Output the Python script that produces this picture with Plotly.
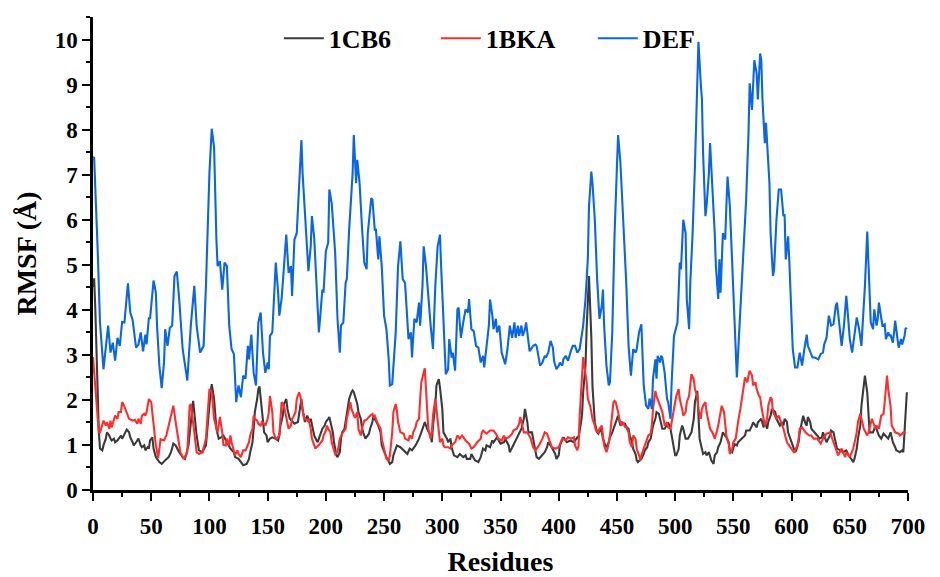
import plotly.graph_objects as go

# ---------------- data ----------------
cb6_res = [0,1,2,3,4,5,6,8,9,11,12,14,15,16,18,19,21,22,24,25,27,28,29,31,32,34,35,37,38,39,41,42,44,45,47,48,49,51,52,54,57,59,62,65,67,69,71,74,77,79,82,84,86,87,89,91,94,97,99,101,102,104,106,108,110,112,115,118,121,122,125,127,129,132,134,135,137,138,139,141,142,143,144,146,147,149,150,152,154,157,159,160,161,163,164,166,167,169,172,173,176,177,179,180,182,184,186,187,189,190,192,193,194,196,197,199,200,202,203,204,206,207,209,210,212,213,214,216,217,219,220,222,223,224,226,227,228,230,231,232,234,237,238,240,241,242,245,247,248,250,252,255,257,258,260,261,264,267,270,272,274,277,280,282,285,287,290,291,292,294,295,297,298,300,301,304,305,307,308,310,313,315,318,320,321,324,325,328,331,333,334,335,337,338,341,343,344,347,350,353,354,357,358,361,364,367,368,370,371,373,374,377,378,380,381,383,386,388,390,391,394,397,398,400,401,404,407,410,413,416,417,418,420,421,423,424,426,428,429,431,433,434,436,437,438,440,441,443,444,446,447,448,451,453,454,457,458,460,461,463,464,466,467,468,471,473,474,476,477,479,480,481,483,484,486,487,489,491,494,496,497,499,500,501,503,504,506,507,509,511,514,516,517,519,520,521,523,524,526,527,529,530,531,533,534,536,537,539,540,541,544,546,547,549,551,553,554,557,560,561,564,566,567,570,571,574,576,577,579,580,582,583,586,587,590,592,593,594,596,597,599,600,602,603,604,606,607,609,610,612,613,614,616,617,620,622,624,626,627,630,633,634,636,637,639,642,644,647,649,652,653,654,656,657,659,660,662,663,665,666,667,670,672,675,677,679,683,685,687,689,690,693,695,696,697,699]
cb6_val = [4.5,4.7,4.0,3.0,2.0,1.3,0.92,0.88,0.99,1.14,1.28,1.21,1.14,1.10,1.14,1.06,1.10,1.14,1.21,1.14,1.25,1.28,1.34,1.28,1.17,1.06,0.99,1.06,1.10,1.14,0.99,0.95,0.99,0.88,0.95,0.92,1.10,1.17,0.92,0.73,0.62,0.58,0.66,0.73,0.84,1.03,0.99,0.84,0.73,0.69,0.99,1.51,1.98,1.73,1.21,0.88,0.84,0.99,1.65,2.17,2.35,2.02,1.36,1.14,1.17,1.21,1.06,0.92,0.84,0.73,0.69,0.62,0.55,0.58,0.69,0.84,1.06,1.36,1.73,2.02,2.24,2.30,2.02,1.58,1.28,1.21,1.06,1.14,1.17,1.14,1.10,1.21,1.43,1.65,1.91,2.02,1.80,1.58,1.51,1.47,1.51,1.65,2.02,1.80,1.51,1.65,1.51,1.58,1.36,1.21,1.10,1.06,1.14,1.28,1.36,1.43,1.51,1.58,1.62,1.51,1.28,1.06,0.77,0.73,0.84,1.14,1.28,1.36,1.51,1.80,2.02,2.17,2.21,2.17,2.0,1.91,1.73,1.58,1.39,1.28,1.14,1.25,1.36,1.51,1.65,1.58,1.43,1.28,0.99,0.84,0.73,0.58,0.62,0.77,0.92,0.99,0.95,0.88,0.80,0.92,0.88,0.99,1.14,1.28,1.51,1.36,1.21,1.06,1.43,1.87,2.32,2.46,2.28,1.80,1.28,1.14,1.06,1.14,0.95,0.77,0.73,0.80,0.73,0.77,0.69,0.69,0.80,0.66,0.62,0.73,0.84,0.92,0.88,0.99,0.95,1.10,1.06,1.17,1.03,1.06,1.14,0.99,0.84,0.99,1.14,1.28,1.36,1.58,1.80,1.51,1.28,1.28,1.14,0.92,0.73,0.69,0.77,0.84,0.95,1.06,0.95,0.80,0.69,0.77,0.99,1.17,1.06,1.10,1.06,1.17,1.14,1.28,1.65,2.17,2.76,3.6,4.75,3.4,2.3,1.5,1.28,1.25,1.36,1.28,1.14,0.99,0.95,1.06,1.17,1.28,1.36,1.43,1.65,1.43,1.50,1.47,1.40,1.36,1.21,1.06,0.91,0.80,0.66,0.62,0.69,0.80,0.88,0.95,1.06,1.14,1.28,1.43,1.58,1.73,1.69,1.58,1.36,1.36,1.50,1.36,1.21,0.91,0.77,0.77,0.91,1.21,1.43,1.36,1.14,1.14,1.28,1.58,1.95,2.20,1.73,1.14,0.91,0.80,0.84,0.77,0.84,0.77,0.66,0.58,0.77,0.84,0.95,1.06,1.21,1.28,1.17,1.06,0.88,0.84,1.02,0.99,1.06,1.14,1.21,1.32,1.32,1.43,1.50,1.39,1.50,1.58,1.39,1.51,1.36,1.51,1.65,1.80,1.73,1.58,1.43,1.51,1.43,1.58,1.51,1.28,1.14,1.03,0.92,0.84,0.88,1.06,1.28,1.58,1.65,1.47,1.43,1.62,1.51,1.36,1.28,1.21,1.14,1.17,1.28,1.06,1.21,1.32,1.28,1.14,0.92,0.88,0.84,0.88,0.77,0.66,0.62,0.69,0.92,1.14,1.43,1.87,2.32,2.54,2.17,1.65,1.28,1.28,1.43,1.21,1.14,1.25,1.14,1.28,1.06,0.95,0.88,0.84,0.88,0.84,1.28,2.17]

bka_res = [0,1,3,5,6,9,11,12,14,15,16,18,19,21,22,24,25,26,28,29,31,34,36,38,39,41,42,44,45,46,48,50,52,54,56,58,61,63,65,67,69,71,73,75,78,81,83,84,87,89,91,94,97,99,100,102,104,107,109,111,112,114,115,117,118,119,121,122,124,125,127,128,129,131,132,134,135,137,138,139,141,142,144,145,147,148,150,151,152,154,155,157,158,160,161,162,164,165,167,168,170,171,172,174,175,177,178,180,181,182,184,185,187,188,190,191,192,194,195,197,198,200,201,202,204,205,207,208,210,211,212,214,215,217,218,220,221,222,224,225,227,228,230,231,233,235,238,240,241,242,244,245,247,248,250,251,252,254,255,257,258,260,261,262,264,267,268,271,272,274,275,277,278,280,281,282,284,285,286,287,288,290,291,292,294,295,297,298,300,301,302,305,307,308,311,313,315,317,320,323,325,327,330,333,334,335,338,341,344,347,348,351,353,354,357,360,361,364,366,367,368,370,373,376,378,380,383,386,388,390,393,394,397,400,403,406,408,411,413,414,416,417,418,420,421,422,424,425,427,428,429,431,432,434,435,437,438,439,441,442,444,445,447,448,449,451,452,454,455,457,458,460,461,463,464,466,467,469,470,471,473,474,476,477,479,480,481,483,484,486,487,489,490,491,493,494,496,497,499,500,501,503,504,506,507,509,510,512,513,514,516,517,519,520,522,523,524,526,527,529,530,532,533,534,536,537,539,540,542,543,544,546,547,549,550,552,553,554,556,557,559,560,562,563,564,566,567,569,570,572,573,574,576,577,579,580,582,583,584,587,589,590,593,596,599,602,603,605,606,607,609,612,615,617,619,622,625,627,630,633,636,639,640,643,646,647,650,653,656,657,659,660,662,665,666,669,670,672,673,675,677,679,680,682,683,685,686,689,692,693,695,696,698]
bka_val = [2.95,2.6,1.8,1.28,1.28,1.54,1.43,1.51,1.36,1.54,1.39,1.58,1.65,1.58,1.73,1.73,1.95,1.91,1.76,1.69,1.58,1.54,1.56,1.47,1.58,1.47,1.65,1.69,1.65,1.73,2.02,1.95,1.43,0.99,0.71,1.13,1.10,1.21,1.43,1.65,1.87,1.51,1.14,0.84,0.69,0.84,1.87,1.91,1.28,0.84,0.80,0.84,1.14,2.02,2.24,2.17,1.58,1.28,1.62,1.28,1.0,0.99,1.14,0.99,1.21,1.06,0.84,0.77,0.88,0.80,0.73,0.84,0.88,0.88,0.95,1.06,1.21,1.36,1.65,1.58,1.54,1.47,1.43,1.51,1.47,1.43,1.58,1.73,2.09,1.73,1.28,1.14,1.14,1.21,1.58,1.95,1.87,1.73,1.43,1.36,1.43,1.58,1.62,1.73,2.02,2.17,2.09,1.73,1.62,1.58,1.54,1.58,1.36,1.14,0.99,0.92,0.95,0.99,1.03,1.10,1.21,1.32,1.43,1.36,1.28,1.06,0.84,0.80,0.84,0.99,1.14,1.25,1.28,1.36,1.58,1.80,1.95,1.80,1.65,1.60,1.73,1.35,1.21,1.36,1.54,1.56,1.65,1.69,1.62,1.65,1.51,1.47,1.36,1.14,0.95,0.80,0.69,0.66,0.77,1.28,1.73,1.91,1.76,1.51,1.28,1.25,1.14,1.10,1.21,1.14,1.28,1.39,1.51,1.58,2.02,2.39,2.61,2.70,2.24,1.80,1.36,1.14,1.28,1.65,2.02,1.80,1.28,1.06,1.14,0.99,0.95,0.95,0.92,0.99,1.06,1.21,1.14,1.21,1.10,1.03,0.92,0.95,1.06,1.14,1.28,1.32,1.25,1.32,1.32,1.21,1.14,1.10,1.21,1.14,1.17,1.25,1.32,1.36,1.47,1.62,1.51,1.28,1.28,1.14,0.95,0.88,0.99,1.14,1.28,1.25,1.03,0.95,0.92,0.95,1.14,1.10,1.17,1.14,1.17,0.99,0.88,0.99,1.65,2.54,2.95,2.76,2.39,2.02,1.87,1.73,1.58,1.43,1.32,1.28,1.36,1.43,1.21,0.99,0.84,0.92,1.21,1.51,1.95,1.98,1.95,1.73,1.58,1.43,1.51,1.40,1.39,1.28,1.06,0.95,1.21,1.14,0.91,0.77,0.66,0.77,0.95,0.99,1.14,1.21,1.25,1.43,1.80,2.20,2.09,1.95,1.87,1.73,1.58,1.43,1.50,1.39,1.36,1.50,1.73,1.95,2.09,2.24,2.02,1.80,1.65,1.73,1.95,2.09,2.39,2.57,2.46,2.24,2.09,1.80,1.58,1.80,1.87,1.95,1.73,1.50,1.36,1.28,1.21,1.14,1.32,1.43,1.73,1.87,1.73,1.50,1.21,1.02,0.80,0.91,1.06,1.14,1.28,1.50,1.80,2.02,2.32,2.50,2.39,2.54,2.65,2.54,2.32,2.39,2.24,2.09,2.06,1.87,1.51,1.43,1.58,1.87,2.06,2.02,1.73,1.58,1.65,1.58,1.36,1.06,0.95,0.84,0.88,0.99,1.14,1.36,1.39,1.28,1.21,1.21,1.14,1.14,1.03,1.14,1.25,1.28,1.06,0.84,0.77,0.92,0.73,0.84,0.73,0.92,1.28,1.51,1.69,1.58,1.36,1.21,1.28,1.58,1.51,1.36,1.43,1.36,1.65,1.69,1.95,2.54,2.24,1.87,1.43,1.28,1.25,1.21,1.25,1.28,1.28]

def_res = [0,1,4,6,9,13,15,17,19,21,23,25,27,29,30,32,34,37,39,41,43,45,46,48,49,52,54,55,57,59,61,62,64,66,68,70,72,74,77,81,84,87,89,92,95,97,100,102,104,106,107,109,111,113,115,117,119,121,123,125,127,129,131,133,134,136,138,140,142,144,146,148,150,151,152,154,157,159,160,162,164,166,168,170,171,173,175,177,179,180,182,184,185,187,188,190,192,194,195,197,198,200,202,203,205,207,208,210,212,213,215,217,218,220,223,224,226,227,229,231,233,235,236,239,240,242,243,245,246,248,250,252,254,255,257,260,262,264,266,268,270,271,273,274,276,278,280,281,283,284,286,288,290,292,294,296,298,299,301,303,305,306,308,309,311,313,314,316,318,320,322,323,325,327,329,331,333,335,336,338,340,341,343,344,346,347,349,351,354,356,358,360,362,363,365,366,368,369,371,372,373,375,378,380,381,383,384,386,388,389,391,393,395,396,398,400,401,403,404,406,408,410,412,414,415,416,418,421,423,425,426,428,429,431,433,435,437,438,439,441,443,444,446,448,450,451,453,455,457,458,460,462,464,466,467,469,471,472,473,475,477,478,480,481,483,484,485,487,488,489,491,493,494,496,497,499,501,502,504,505,507,509,510,512,513,515,517,519,520,522,523,524,526,527,529,530,532,534,535,537,538,539,541,543,544,545,547,549,551,552,553,555,557,559,561,563,564,566,567,568,570,571,573,574,575,577,578,579,581,582,584,585,587,589,591,593,594,595,597,598,600,601,603,605,607,609,611,613,614,616,618,620,623,625,627,628,630,632,634,636,638,639,641,643,645,647,648,650,652,654,656,658,660,661,663,665,667,668,670,671,673,674,675,677,678,680,681,683,684,685,687,688,689,691,692,694,695,697,698,699]
def_val = [7.4,7.37,5.34,3.72,2.68,3.65,3.05,3.27,2.87,3.38,3.2,3.73,3.72,4.31,4.59,3.94,3.78,3.16,3.23,3.5,3.08,3.45,3.23,3.83,3.8,4.65,4.38,3.65,2.76,2.26,2.83,3.57,3.2,3.6,3.65,4.75,4.85,4.24,3.13,2.43,3.65,4.53,3.65,3.05,3.2,4.53,7.04,8.02,7.6,5.56,4.97,5.08,4.45,5.05,4.97,3.65,3.13,3.02,1.95,2.32,2.06,2.54,2.47,3.2,2.9,3.45,2.6,2.32,3.72,3.94,3.05,2.6,2.83,2.68,3.42,3.5,5.05,4.38,3.87,4.24,4.97,5.67,4.82,4.97,4.31,5.56,5.7,6.81,7.77,7.04,6.08,5.41,4.86,5.41,6.08,5.6,4.38,3.5,3.8,4.45,4.38,5.3,5.49,6.67,6.37,5.56,5.27,3.8,3.05,3.65,3.72,4.6,4.68,5.78,7.04,7.88,6.81,7.33,6.8,5.85,5.05,4.9,5.7,6.48,6.45,5.78,5.78,5.12,5.63,4.97,3.87,3.57,2.9,2.32,2.35,3.5,4.97,5.52,4.68,4.6,3.8,3.35,3.5,2.94,3.8,3.72,4.16,3.65,4.53,5.41,4.97,4.24,3.65,3.13,4.53,5.41,5.67,4.97,3.65,2.57,2.68,3.35,2.94,3.05,2.65,4.01,4.05,3.38,3.72,4.01,3.94,4.24,3.57,3.53,3.2,3.16,2.83,2.98,2.72,3.2,3.65,4.23,3.87,3.57,3.8,3.5,3.65,3.05,2.79,3.13,3.65,3.38,3.72,3.38,3.65,3.42,3.65,3.42,3.57,3.72,3.5,3.08,3.2,3.23,3.2,2.83,2.76,2.83,2.98,2.94,3.05,3.31,3.16,2.87,2.68,2.76,2.83,2.76,2.9,2.98,2.87,3.05,3.2,3.2,3.13,3.05,3.13,3.65,4.24,5.12,6.3,7.07,6.81,6.0,4.68,3.8,4.09,4.45,3.65,2.76,2.32,2.39,3.5,5.7,7.18,7.88,7.26,6.23,5.0,4.6,3.2,2.54,3.13,3.05,3.13,3.5,3.68,3.05,2.32,1.88,1.8,2.03,1.8,2.47,2.9,2.47,2.98,2.83,2.98,2.94,2.6,2.03,1.95,1.58,2.39,3.42,3.65,3.72,5.05,4.9,6.0,5.7,4.24,3.57,4.6,5.7,7.18,8.8,9.95,9.03,8.67,7.48,6.08,6.3,7.04,7.7,6.74,5.7,4.97,4.24,5.12,4.38,5.7,5.56,6.3,6.96,6.3,4.97,3.87,2.98,2.5,3.5,4.45,5.7,6.45,7.92,9.03,8.44,9.18,9.54,9.25,8.67,9.69,9.54,8.67,7.7,8.15,7.7,6.81,5.7,4.75,4.9,6.0,6.67,6.67,6.08,6.12,5.12,5.63,5.12,4.01,3.13,2.72,2.72,3.05,2.76,3.13,3.45,3.2,3.08,2.94,2.94,2.9,3.02,3.05,3.23,3.38,3.87,3.65,3.68,4.09,4.16,3.65,3.2,3.65,4.31,4.01,3.35,3.05,3.42,3.83,3.57,3.2,3.65,4.53,5.74,4.6,3.72,3.57,4.01,3.65,3.8,4.16,3.87,3.65,3.68,3.35,3.5,3.42,3.45,3.27,3.5,3.76,3.35,3.16,3.35,3.23,3.42,3.6,3.57]

series_names = ["1CB6", "1BKA", "DEF"]
series_colors = ["#3b3b3b", "#ff2d2d", "#0a66e2"]
x_ticks = [0, 50, 100, 150, 200, 250, 300, 350, 400, 450, 500, 550, 600, 650, 700]
y_ticks = [0, 1, 2, 3, 4, 5, 6, 7, 8, 9, 10]

FONT = "Liberation Serif, Times New Roman, serif"

fig = go.Figure()
for name, xs, ys, col in zip(series_names,
                             [cb6_res, bka_res, def_res],
                             [cb6_val, bka_val, def_val],
                             series_colors):
    fig.add_trace(go.Scatter(x=xs, y=ys, mode="lines", name=name,
                             line=dict(color=col, width=2.1)))

axis_common = dict(
    showline=True, linecolor="black", linewidth=2.5, mirror=False,
    ticks="outside", ticklen=8, tickwidth=2, tickcolor="black",
    showgrid=False, zeroline=False, automargin=False,
    tickfont=dict(family=FONT, size=23, color="black", weight="bold"),
)

fig.update_layout(
    width=940, height=577,
    margin=dict(l=93, r=32, t=17, b=87),
    paper_bgcolor="white", plot_bgcolor="white",
    font=dict(family=FONT, color="black"),
    xaxis=dict(range=[0, 700], tickvals=x_ticks, ticklabelstandoff=6,
               minor=dict(ticks="outside", ticklen=4, tickwidth=2, dtick=25, tick0=0, tickcolor="black"),
               title=dict(text="<b>Residues</b>", font=dict(family=FONT, size=28, color="black"), standoff=22),
               **axis_common),
    yaxis=dict(range=[0, 10.5], tickvals=y_ticks,
               minor=dict(ticks="outside", ticklen=4, tickwidth=2, dtick=0.5, tick0=0, tickcolor="black"),
               title=dict(text="<b>RMSF (Å)</b>", font=dict(family=FONT, size=28, color="black"), standoff=10),
               **axis_common),
    legend=dict(orientation="h", x=0.517, y=0.955, xanchor="center", yanchor="middle",
                font=dict(family=FONT, size=26, color="black", weight="bold"),
                bgcolor="rgba(0,0,0,0)", entrywidth=102, itemwidth=40),
    showlegend=True,
)

fig.write_html("out.html")
